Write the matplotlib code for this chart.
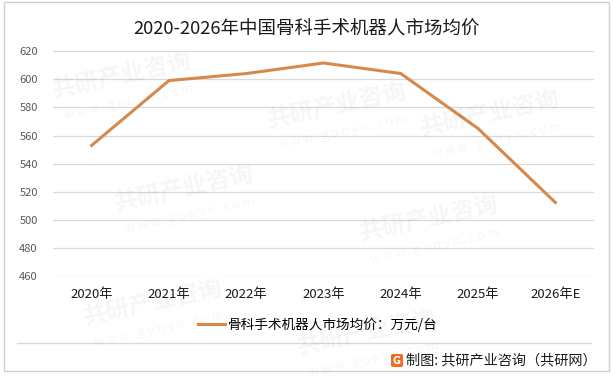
import matplotlib.pyplot as plt
from matplotlib.patches import Rectangle, FancyBboxPatch
from matplotlib.lines import Line2D

plt.rcParams['font.family'] = ['Noto Sans CJK SC', 'DejaVu Sans']

years = ["2020年", "2021年", "2022年", "2023年", "2024年", "2025年", "2026年E"]
price = [553, 599, 604, 611.5, 604, 565, 512.5]
yticks = [460, 480, 500, 520, 540, 560, 580, 600, 620]

title = "2020-2026年中国骨科手术机器人市场均价"
series_name = "骨科手术机器人市场均价：万元/台"
source = "制图: 共研产业咨询（共研网）"

W, H = 613, 378
fig = plt.figure(figsize=(W / 100, H / 100), dpi=100)
ax = fig.add_axes([53 / W, 1 - 276.5 / H, (594 - 53) / W, (276.5 - 51) / H])

x = list(range(len(years)))
ax.plot(x, price, color="#D8894A", linewidth=2.2, solid_joinstyle="miter")

ax.set_xlim(-0.5, len(years) - 0.5)
ax.set_ylim(460, 620)
ax.set_yticks(yticks)
ax.set_xticks(x)
ax.set_xticklabels(years, fontsize=9.5, color="#1a1a1a")
ax.tick_params(axis="y", labelsize=8, labelcolor="#595959", length=0, pad=11)
ax.tick_params(axis="x", length=0, pad=8)
ax.grid(axis="y", color="#d9d9d9", linewidth=0.9)
ax.set_axisbelow(True)
for s in ax.spines.values():
    s.set_visible(False)

# faint watermarks
for wx, wy in [(0.2, 0.8), (0.55, 0.72), (0.3, 0.5), (0.7, 0.42), (0.25, 0.2), (0.8, 0.7), (0.6, 0.12)]:
    fig.text(wx, wy, "共研产业咨询", fontsize=17, fontweight="bold", color="#000000",
             alpha=0.04, rotation=12, ha="center", va="center")
    fig.text(wx + 0.01, wy - 0.07, "w w w . g o n y n . c o m", fontsize=9, color="#000000",
             alpha=0.04, rotation=12, ha="center", va="center")

fig.text(0.5, 1 - 30 / H, title, fontsize=13.3, ha="center", va="center", color="#1a1a1a")

handle = Line2D([], [], color="#D8894A", linewidth=2.2)
fig.legend([handle], [series_name], loc="center", bbox_to_anchor=(0.518, 1 - 325 / H),
           frameon=False, fontsize=9.8, handlelength=2.0, handletextpad=0.2)

# separator and footer
fig.add_artist(Line2D([17 / W, 591 / W], [1 - 343 / H, 1 - 343 / H], color="#d9d9d9", linewidth=1))
fig.add_artist(FancyBboxPatch((391 / W, 1 - 367 / H), 12 / W, 13 / H,
                              boxstyle="round,pad=0,rounding_size=0.004",
                              facecolor="#F26B1D", edgecolor="none"))
fig.text(397 / W, 1 - 360.5 / H, "G", fontsize=7, fontweight="bold", color="white",
         ha="center", va="center", family="DejaVu Sans")
fig.text(406 / W, 1 - 360 / H, source, fontsize=10.2, ha="left", va="center", color="#1a1a1a")

# outer border
fig.add_artist(Rectangle((4 / W, 1 - 371 / H), 605 / W, 369 / H, fill=False,
                         edgecolor="#d0d0d0", linewidth=1))

fig.savefig("out.png", dpi=100)
